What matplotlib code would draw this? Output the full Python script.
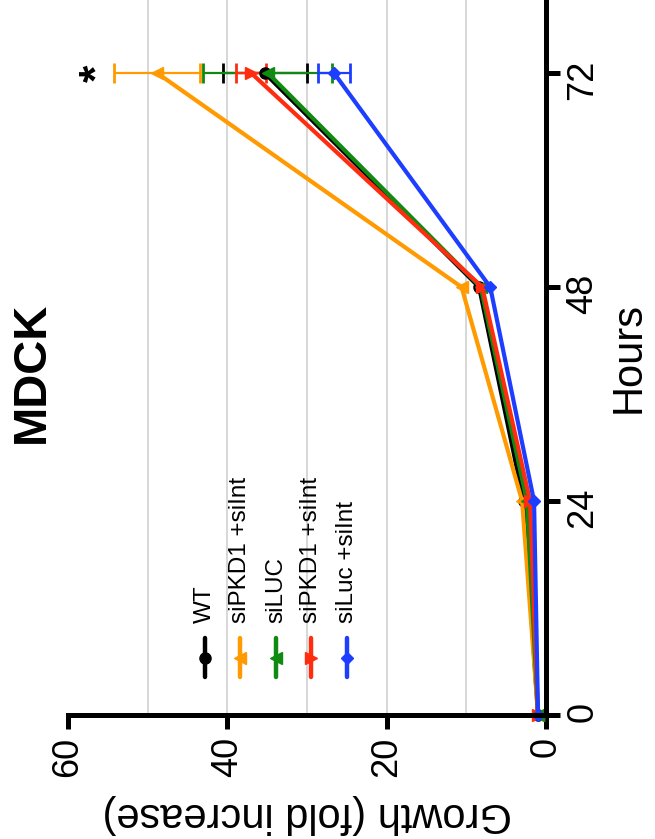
import matplotlib
matplotlib.use("Agg")
import matplotlib.pyplot as plt
import numpy as np

plt.rcParams['font.family'] = ['Liberation Sans', 'DejaVu Sans']

# data (figure is drawn rotated 90 deg, like the original scan)
hours = [0, 24, 48, 72]
names = ["WT", "siPKD1 +siInt", "siLUC", "siPKD1 +siInt", "siLuc +siInt"]
wt = [1.0, 2.8, 8.4, 35.3]
wt_err = [0.0, 0.0, 0.0, 5.3]
pkd_int_a = [1.0, 3.0, 10.6, 48.8]
pkd_int_a_err = [0.0, 0.0, 0.0, 5.4]
siluc = [1.0, 2.4, 8.2, 34.9]
siluc_err = [0.0, 0.0, 0.0, 8.1]
pkd_int_b = [1.0, 2.0, 8.0, 37.0]
pkd_int_b_err = [0.0, 0.0, 0.0, 1.9]
luc_int = [1.0, 1.5, 7.0, 26.6]
luc_int_err = [0.0, 0.0, 0.0, 2.0]
star_pos = (56.2, 72)

series = [wt, pkd_int_a, siluc, pkd_int_b, luc_int]
errs = [wt_err, pkd_int_a_err, siluc_err, pkd_int_b_err, luc_int_err]
colors = ["black", "#FF9A00", "#118A11", "#FF2D10", "#1D3DFF"]
markers = ["o", "<", "<", ">", "D"]
msizes = [8, 8, 8, 8, 6.5]

W, H = 655, 839
fig = plt.figure(figsize=(W / 100, H / 100), dpi=100)
ax = fig.add_axes([68 / W, 124 / H, 478 / W, 715 / H])

for v in [10, 20, 30, 40, 50]:
    ax.axvline(v, color="#d4d4d4", lw=1.3, zorder=0)

for vals, err, c, m, ms in zip(series, errs, colors, markers, msizes):
    ax.errorbar(vals, hours, xerr=err, errorevery=(3, 1), color=c, marker=m,
                markersize=ms, lw=3.0, elinewidth=1.6, capsize=7, capthick=2.0,
                clip_on=False)

ax.text(star_pos[0], star_pos[1], "*", fontsize=32, fontweight="bold",
        rotation=90, ha="center", va="center")

ax.set_xlim(60, 0)
ax.set_ylim(0, 80.2)
for s in ["left", "top"]:
    ax.spines[s].set_visible(False)
for s in ["right", "bottom"]:
    ax.spines[s].set_linewidth(3.6)

ax.yaxis.tick_right()
ax.yaxis.set_label_position("right")
ax.set_yticks(hours)
ax.set_xticks([0, 20, 40, 60])
ax.tick_params(axis="both", width=3.6, length=10, labelsize=26, direction="out")
ax.tick_params(axis="x", labelrotation=90, pad=6)
ax.tick_params(axis="y", labelrotation=90, pad=4)

ax.set_xlabel("Growth (fold increase)", fontsize=30, rotation=180, labelpad=12)
ax.set_ylabel("Hours", fontsize=30, rotation=90, labelpad=6)

fig.text(32 / W, 1 - 372 / H, "MDCK", fontsize=34, fontweight="bold",
         rotation=90, ha="center", va="center")

# legend, rotated like the rest
leg_x = [205, 240, 276, 311, 347]
for px, name, c, m, ms in zip(leg_x, names, colors, markers, msizes):
    xf = px / W
    fig.lines.append(plt.Line2D([xf, xf], [1 - 638 / H, 1 - 677 / H], color=c, lw=3.2,
                                solid_capstyle="round", transform=fig.transFigure))
    fig.lines.append(plt.Line2D([xf], [1 - 658 / H], color=c, marker=m, markersize=ms,
                                transform=fig.transFigure))
    fig.text(xf, 1 - 623 / H, name, fontsize=17.5, rotation=90, ha="center", va="bottom")

plt.savefig("out.png", dpi=100)
plt.close()
